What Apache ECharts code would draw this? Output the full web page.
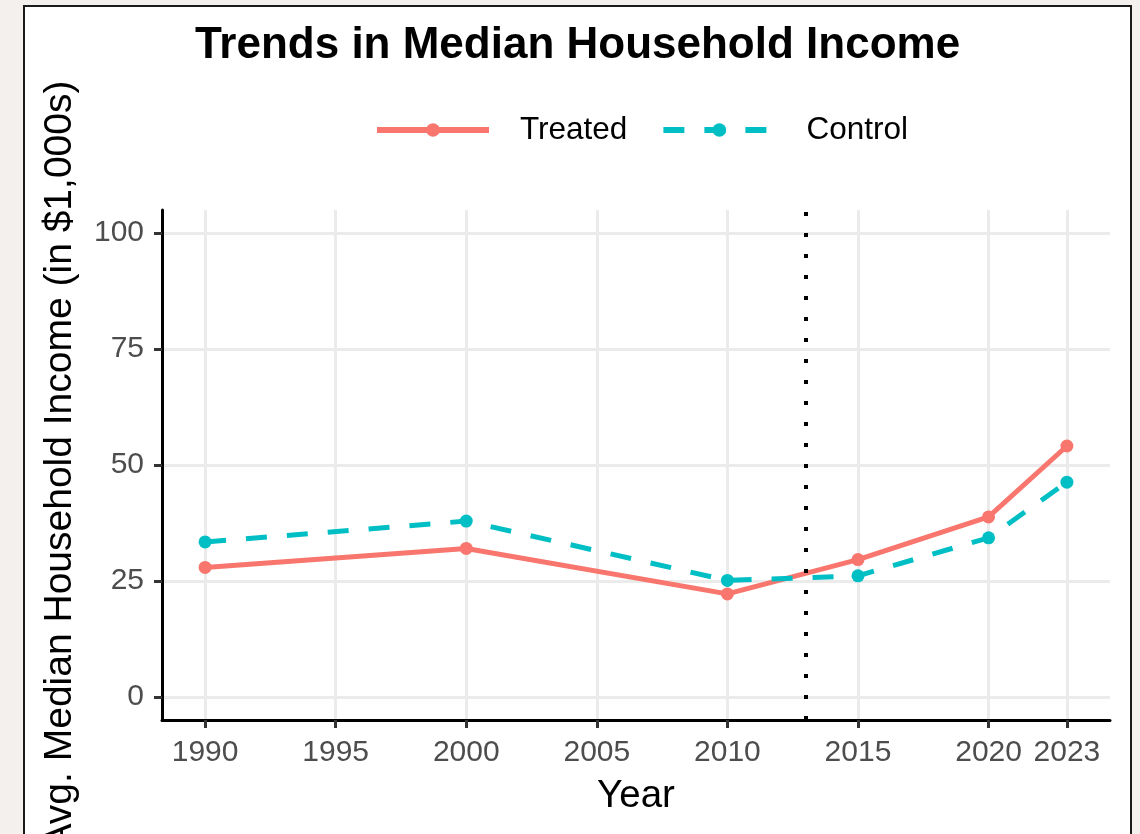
<!DOCTYPE html>
<html>
<head>
<meta charset="utf-8">
<script src="https://cdn.jsdelivr.net/npm/echarts@6/dist/echarts.min.js"></script>
<style>
  html, body { margin: 0; padding: 0; background: #f3f0ed; }
  #chart { width: 1140px; height: 834px; }
</style>
</head>
<body>
<div id="chart"></div>
<script>
const years = [1990, 2000, 2010, 2015, 2020, 2023];
const treated = [27.9, 32.0, 22.2, 29.6, 38.8, 54.1];
const control = [33.4, 37.9, 25.1, 26.1, 34.3, 46.3];
const xTicks = [1990, 1995, 2000, 2005, 2010, 2015, 2020, 2023];
const yTicks = [0, 25, 50, 75, 100];
const policyYear = [2013];

const FONT = '"Liberation Sans", Arial, Helvetica, sans-serif';
const chart = echarts.init(document.getElementById('chart'), null, { renderer: 'canvas' });

const pairs = (xs, ys) => xs.map((x, i) => [x, ys[i]]);

chart.setOption({
  animation: false,
  backgroundColor: '#f3f0ed',
  textStyle: { fontFamily: FONT },
  graphic: [{
    type: 'rect',
    z: -10,
    silent: true,
    shape: { x: 24, y: 6, width: 1107, height: 900 },
    style: { fill: '#ffffff', stroke: '#1a1a1a', lineWidth: 2 }
  }],
  title: {
    text: 'Trends in Median Household Income',
    left: 577.5,
    textAlign: 'center',
    top: 24,
    padding: 0,
    textStyle: { fontFamily: FONT, fontSize: 44, fontWeight: 'bold', color: '#000' }
  },
  legend: {
    left: 374,
    top: 114,
    padding: 0,
    itemWidth: 112,
    itemHeight: 17,
    itemGap: 33,
    data: ['Treated', 'Control'],
    lineStyle: { width: 6 },
    textStyle: { fontFamily: FONT, fontSize: 31.5, color: '#000', padding: [0, 0, 0, 26] }
  },
  grid: { left: 162, right: 30, top: 210, bottom: 114, containLabel: false, outerBoundsMode: 'none' },
  xAxis: {
    type: 'value',
    min: 1988.35,
    max: 2024.65,
    name: 'Year',
    nameLocation: 'middle',
    nameGap: 57,
    nameMoveOverlap: false,
    nameTextStyle: { fontFamily: FONT, fontSize: 38.5, color: '#000' },
    axisLine: { show: true, onZero: false, lineStyle: { color: '#000', width: 3 } },
    axisTick: { show: true, length: 8, customValues: xTicks, lineStyle: { color: '#333', width: 3 } },
    axisLabel: { show: true, customValues: xTicks, margin: 18, color: '#4d4d4d', fontSize: 30, fontFamily: FONT, formatter: v => String(v), hideOverlap: false },
    splitLine: { show: true, lineStyle: { color: '#ebebeb', width: 3 } },
    minorSplitLine: { show: false }
  },
  yAxis: {
    type: 'value',
    min: -5,
    max: 105,
    name: 'Avg. Median Household Income (in $1,000s)',
    nameLocation: 'middle',
    nameGap: 82,
    nameMoveOverlap: false,
    nameTextStyle: { fontFamily: FONT, fontSize: 39, color: '#000' },
    axisLine: { show: true, onZero: false, lineStyle: { color: '#000', width: 3 } },
    axisTick: { show: true, length: 8, customValues: yTicks, lineStyle: { color: '#333', width: 3 } },
    axisLabel: { show: true, customValues: yTicks, margin: 18, color: '#4d4d4d', fontSize: 30, fontFamily: FONT, formatter: v => String(v) },
    splitLine: { show: true, lineStyle: { color: '#ebebeb', width: 3 } }
  },
  series: [
    {
      name: 'Treated',
      type: 'line',
      data: pairs(years, treated),
      symbol: 'circle',
      symbolSize: 13,
      color: '#F8766D',
      itemStyle: { color: '#F8766D' },
      lineStyle: { color: '#F8766D', width: 5 },
      z: 3,
      markLine: {
        silent: true,
        symbol: ['none', 'none'],
        label: { show: false },
        lineStyle: { color: '#000', width: 4, type: [4, 17] },
        data: policyYear.map(v => ({ xAxis: v }))
      }
    },
    {
      name: 'Control',
      type: 'line',
      data: pairs(years, control),
      symbol: 'circle',
      symbolSize: 13,
      color: '#00BFC4',
      itemStyle: { color: '#00BFC4' },
      lineStyle: { color: '#00BFC4', width: 5, type: [21, 20] },
      z: 3
    }
  ]
});
</script>
</body>
</html>
